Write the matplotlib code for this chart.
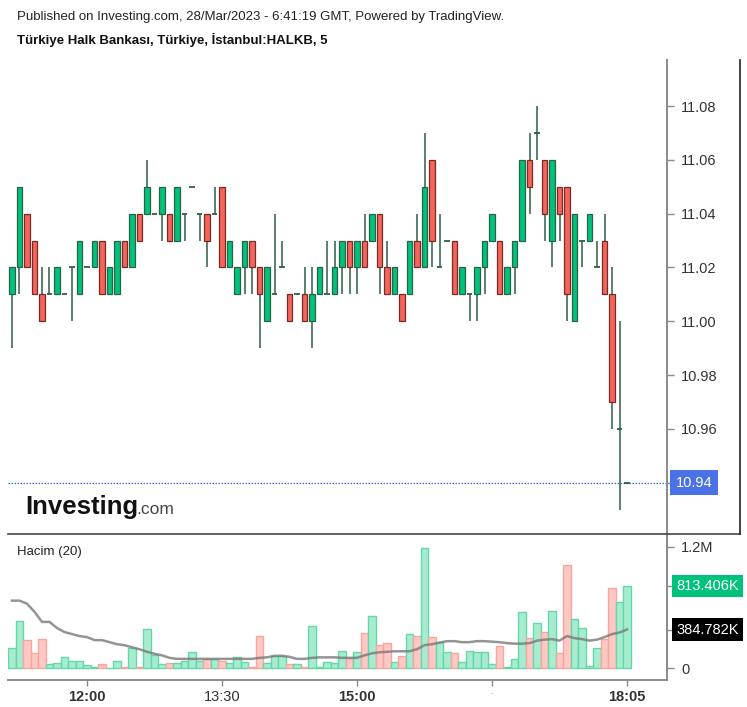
import matplotlib
matplotlib.use('Agg')
import matplotlib.pyplot as plt
from matplotlib.lines import Line2D

plt.rcParams['font.family'] = ['Liberation Sans', 'DejaVu Sans']

W, H = 747, 707

# ---------------- data ----------------
opens = [11.01, 11.02, 11.04, 11.03, 11.01, 11.01, 11.01, 11.01, 11.02, 11.01,
         11.02, 11.02, 11.03, 11.01, 11.01, 11.03, 11.02, 11.04, 11.04, 11.04,
         11.04, 11.04, 11.03, 11.04, 11.05, 11.04, 11.04, 11.04, 11.05, 11.02,
         11.01, 11.02, 11.03, 11.02, 11.00, 11.01, 11.02, 11.01, 11.01, 11.01,
         11.00, 11.01, 11.01, 11.01, 11.02, 11.03, 11.02, 11.03, 11.03, 11.04,
         11.02, 11.01, 11.01, 11.01, 11.03, 11.02, 11.06, 11.02, 11.03, 11.03,
         11.01, 11.01, 11.01, 11.02, 11.03, 11.03, 11.01, 11.02, 11.03, 11.06,
         11.07, 11.06, 11.03, 11.05, 11.05, 11.00, 11.03, 11.03, 11.02, 11.03,
         11.01, 10.96, 10.94]
closes = [11.02, 11.05, 11.02, 11.01, 11.00, 11.01, 11.02, 11.01, 11.02, 11.03,
          11.02, 11.03, 11.01, 11.02, 11.03, 11.02, 11.04, 11.03, 11.05, 11.04,
          11.05, 11.03, 11.05, 11.04, 11.05, 11.04, 11.03, 11.04, 11.02, 11.03,
          11.02, 11.03, 11.02, 11.01, 11.02, 11.01, 11.02, 11.00, 11.01, 11.00,
          11.01, 11.02, 11.01, 11.02, 11.03, 11.02, 11.03, 11.02, 11.04, 11.02,
          11.01, 11.02, 11.00, 11.03, 11.02, 11.05, 11.03, 11.02, 11.03, 11.01,
          11.02, 11.01, 11.02, 11.03, 11.04, 11.01, 11.02, 11.03, 11.06, 11.05,
          11.07, 11.04, 11.06, 11.04, 11.01, 11.04, 11.03, 11.04, 11.02, 11.01,
          10.97, 10.96, 10.94]
highs = [11.02, 11.05, 11.04, 11.03, 11.02, 11.02, 11.02, 11.01, 11.02, 11.03,
         11.02, 11.03, 11.03, 11.02, 11.03, 11.03, 11.04, 11.04, 11.06, 11.04,
         11.05, 11.04, 11.05, 11.04, 11.05, 11.04, 11.04, 11.05, 11.05, 11.03,
         11.02, 11.03, 11.03, 11.02, 11.02, 11.04, 11.03, 11.01, 11.01, 11.02,
         11.02, 11.02, 11.03, 11.03, 11.03, 11.03, 11.03, 11.04, 11.04, 11.04,
         11.03, 11.02, 11.01, 11.03, 11.04, 11.07, 11.06, 11.04, 11.03, 11.03,
         11.02, 11.01, 11.02, 11.03, 11.04, 11.03, 11.02, 11.03, 11.06, 11.07,
         11.08, 11.06, 11.06, 11.05, 11.05, 11.04, 11.03, 11.04, 11.03, 11.04,
         11.02, 11.00, 10.94]
lows = [10.99, 11.01, 11.02, 11.01, 11.00, 11.01, 11.01, 11.01, 11.00, 11.01,
        11.02, 11.02, 11.01, 11.01, 11.01, 11.02, 11.02, 11.03, 11.04, 11.04,
        11.03, 11.03, 11.03, 11.03, 11.05, 11.03, 11.02, 11.04, 11.02, 11.02,
        11.01, 11.01, 11.01, 10.99, 11.00, 11.01, 11.02, 11.00, 11.01, 11.00,
        10.99, 11.01, 11.01, 11.01, 11.01, 11.01, 11.01, 11.02, 11.03, 11.01,
        11.01, 11.01, 11.00, 11.01, 11.02, 11.02, 11.02, 11.02, 11.03, 11.01,
        11.01, 11.00, 11.00, 11.01, 11.03, 11.01, 11.01, 11.01, 11.03, 11.04,
        11.06, 11.03, 11.02, 11.03, 11.00, 11.00, 11.02, 11.03, 11.02, 11.01,
        10.96, 10.93, 10.94]
# volume in millions
volumes = [0.20, 0.47, 0.28, 0.15, 0.29, 0.04, 0.05, 0.11, 0.07, 0.07,
           0.03, 0.01, 0.04, 0.005, 0.07, 0.015, 0.20, 0.01, 0.39, 0.13,
           0.04, 0.05, 0.05, 0.07, 0.16, 0.07, 0.09, 0.09, 0.07, 0.05,
           0.11, 0.06, 0.015, 0.32, 0.05, 0.12, 0.12, 0.04, 0.04, 0.015,
           0.42, 0.01, 0.06, 0.05, 0.17, 0.10, 0.16, 0.35, 0.52, 0.23,
           0.25, 0.06, 0.12, 0.34, 0.32, 1.19, 0.31, 0.26, 0.16, 0.15,
           0.06, 0.17, 0.16, 0.16, 0.04, 0.22, 0.01, 0.09, 0.56, 0.30,
           0.45, 0.36, 0.57, 0.15, 1.02, 0.49, 0.40, 0.02, 0.20, 0.29,
           0.79, 0.66, 0.813406]
vol_ma = [0.67, 0.67, 0.64, 0.56, 0.46, 0.46, 0.40, 0.36, 0.34, 0.32,
          0.31, 0.28, 0.28, 0.26, 0.24, 0.23, 0.21, 0.19, 0.165, 0.145,
          0.13, 0.105, 0.095, 0.095, 0.095, 0.095, 0.095, 0.095, 0.095, 0.095,
          0.095, 0.095, 0.095, 0.105, 0.11, 0.125, 0.125, 0.115, 0.095, 0.095,
          0.105, 0.11, 0.11, 0.11, 0.105, 0.105, 0.105, 0.13, 0.15, 0.16,
          0.165, 0.17, 0.17, 0.17, 0.19, 0.23, 0.24, 0.255, 0.27, 0.27,
          0.26, 0.26, 0.27, 0.27, 0.265, 0.26, 0.25, 0.245, 0.245, 0.25,
          0.275, 0.285, 0.29, 0.275, 0.32, 0.30, 0.29, 0.275, 0.285, 0.31,
          0.34, 0.355, 0.384782]

price_ticks = [10.96, 10.98, 11.00, 11.02, 11.04, 11.06, 11.08]
last_price = 10.94
time_idx = [10, 28, 46, 64, 82]
time_labels = ['12:00', '13:30', '15:00', '-', '18:05']
time_bold = [True, False, True, False, True]
vol_ticks = [0, 1.2]
vol_tick_labels = ['0', '1.2M']
last_vol_label = '813.406K'
last_ma_label = '384.782K'

# ---------------- figure ----------------
fig = plt.figure(figsize=(W / 100, H / 100), dpi=100)
fig.patch.set_facecolor('white')

def fx(px):
    return px / W

def fy(py):
    return 1 - py / H

x_left, x_right = 8, 667
ax1 = fig.add_axes([fx(x_left), fy(534), fx(x_right) - fx(x_left), fy(60) - fy(534)])
ax2 = fig.add_axes([fx(x_left), fy(680), fx(x_right) - fx(x_left), fy(534) - fy(680)])

n = len(opens)
xs = list(range(n))
GREEN = '#00c27a'
GREEN_EDGE = '#2b6247'
RED = '#f4655b'
RED_EDGE = '#7a2a24'
WICK = '#2f5e48'
body_w = 0.72

for i in xs:
    o, c, h, l = opens[i], closes[i], highs[i], lows[i]
    ax1.vlines(i, l, h, color=WICK, lw=1.1, zorder=2)
    if abs(c - o) < 1e-9:
        ax1.hlines(o, i - body_w / 2, i + body_w / 2, color=WICK, lw=1.3, zorder=3)
    else:
        up = c > o
        ax1.bar(i, abs(c - o), bottom=min(o, c), width=body_w,
                color=GREEN if up else RED, edgecolor=GREEN_EDGE if up else RED_EDGE,
                linewidth=0.9, zorder=3)

ax1.set_xlim(-0.533, 87.33)
ax1.set_ylim(10.9209, 11.0971)
ax1.axhline(last_price, color='#3d6ee8', lw=0.9, ls=(0, (1.2, 1.2)), zorder=1)
for s in ['top', 'left', 'bottom']:
    ax1.spines[s].set_visible(False)
ax1.spines['right'].set_color('#8a8a8a')
ax1.spines['right'].set_linewidth(1.4)
ax1.set_xticks([])
ax1.yaxis.tick_right()
ax1.set_yticks(price_ticks + [last_price])
ax1.set_yticklabels([f'{t:.2f}' for t in price_ticks] + [''])
ax1.tick_params(axis='y', length=5, width=1, color='#8a8a8a', labelsize=10.5,
                labelcolor='#333333', pad=5)
ax1.annotate(f'{last_price:.2f}', xy=(1, last_price), xycoords=('axes fraction', 'data'),
             xytext=(6.5, 0), textcoords='offset points', ha='left', va='center',
             fontsize=10.5, color='white', annotation_clip=False,
             bbox=dict(boxstyle='square,pad=0.38', fc='#4a72e6', ec='none'))

# Investing logo
fig.text(fx(25), fy(514), 'Investing', fontsize=18.5, fontweight='bold', color='#111111',
         ha='left', va='baseline')
fig.text(fx(136), fy(514), '.com', fontsize=12.5, color='#444444', ha='left', va='baseline')

# ---------------- volume ----------------
vcolors = []
vedges = []
for i in xs:
    if closes[i] >= opens[i]:
        vcolors.append('#a7ecd0'); vedges.append('#64d9a6')
    else:
        vcolors.append('#ffc8c4'); vedges.append('#f6a59f')
ax2.bar(xs, volumes, width=1.0, color=vcolors, edgecolor=vedges, linewidth=1.0, zorder=2)
ax2.plot(xs, vol_ma, color='#7a7a7a', lw=1.8, alpha=0.8, zorder=3)
ax2.set_xlim(-0.533, 87.33)
ax2.set_ylim(-0.1136, 1.328)
ax2.spines['top'].set_visible(False)
ax2.spines['left'].set_visible(False)
for s in ['right', 'bottom']:
    ax2.spines[s].set_color('#8a8a8a')
    ax2.spines[s].set_linewidth(1.4)
ax2.yaxis.tick_right()
ax2.set_yticks(vol_ticks + [volumes[-1], vol_ma[-1]])
ax2.set_yticklabels(vol_tick_labels + ['', ''])
ax2.tick_params(axis='y', length=5, width=1, color='#8a8a8a', labelsize=10.5,
                labelcolor='#333333', pad=5)
ax2.set_xticks(time_idx)
ax2.set_xticklabels(time_labels)
ax2.tick_params(axis='x', length=4, width=1, color='#8a8a8a', labelsize=10.5,
                labelcolor='#333333', pad=3)
for lab, b in zip(ax2.get_xticklabels(), time_bold):
    if b:
        lab.set_fontweight('bold')
    if lab.get_text() == '-':
        lab.set_fontsize(6)
        lab.set_color('#aaaaaa')
ax2.annotate(last_vol_label, xy=(1, volumes[-1]), xycoords=('axes fraction', 'data'),
             xytext=(6.5, 0), textcoords='offset points', ha='left', va='center',
             fontsize=10.5, color='white', annotation_clip=False,
             bbox=dict(boxstyle='square,pad=0.3', fc='#00c27a', ec='none'))
ax2.annotate(last_ma_label, xy=(1, vol_ma[-1]), xycoords=('axes fraction', 'data'),
             xytext=(6.5, 0), textcoords='offset points', ha='left', va='center',
             fontsize=10.5, color='white', annotation_clip=False,
             bbox=dict(boxstyle='square,pad=0.3', fc='#000000', ec='none'))
ax2.text(0.014, 0.88, 'Hacim (20)', transform=ax2.transAxes, fontsize=9.5,
         color='#222222', ha='left', va='center')

# frame lines
fig.add_artist(Line2D([fx(8), fx(740)], [fy(534), fy(534)], color='#444444', lw=1.2))
fig.add_artist(Line2D([fx(740), fx(740)], [fy(60), fy(534)], color='#222222', lw=1.2))

# header
fig.text(fx(17), fy(17), 'Published on Investing.com, 28/Mar/2023 - 6:41:19 GMT, Powered by TradingView.',
         fontsize=9.5, color='#222222', ha='left', va='center')
fig.text(fx(17), fy(40), 'Türkiye Halk Bankası, Türkiye, İstanbul:HALKB, 5',
         fontsize=9.5, fontweight='bold', color='#111111', ha='left', va='center')

fig.savefig('out.png', dpi=100)
